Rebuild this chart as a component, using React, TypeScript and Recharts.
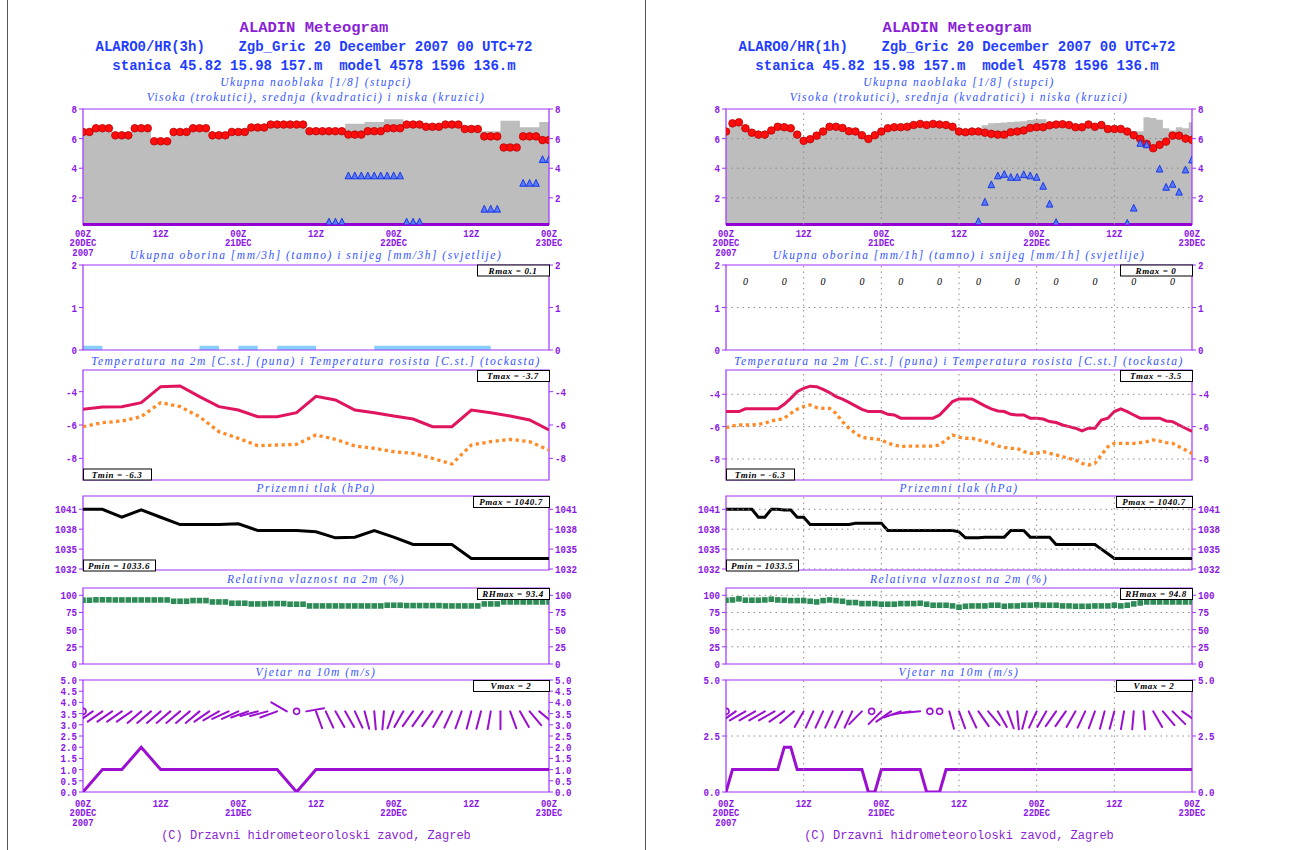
import React from "react";
import { Area, ComposedChart, Line, ReferenceArea, ReferenceLine, Scatter, XAxis, YAxis } from "recharts";

// ---- time axis: hours after 00Z 20 Dec 2007 ----
const HOURS = Array.from({ length: 73 }, (_, h) => h);
const STEPS_3H = HOURS.filter((h) => h % 3 === 0);
const BARB_HOURS = Array.from({ length: 49 }, (_, i) => i * 1.5);
const RAIN_6H_HOURS = [3, 9, 15, 21, 27, 33, 39, 45, 51, 57, 63, 69];
const X_TICKS = [0, 12, 24, 36, 48, 60, 72];
const X_HOUR_LABELS = ["00Z", "12Z", "00Z", "12Z", "00Z", "12Z", "00Z"];
const X_DAY_LABELS = ["20DEC", "", "21DEC", "", "22DEC", "", "23DEC"];
const X_YEAR_LABELS = ["2007", "", "", "", "", "", ""];

// ---- left panel: ALARO0/HR 3h output ----
const lowCloud3h = [6.45, 6.7, 6.22, 6.7, 5.82, 6.45, 6.7, 6.22, 6.45, 6.75, 6.95, 6.95, 6.5, 6.5, 6.27, 6.5, 6.7, 6.95, 6.8, 6.95, 6.65, 6.15, 5.4, 6.15, 5.9];
const totalCloud3h = [6.5, 6.75, 6.3, 6.75, 5.9, 6.5, 6.75, 6.3, 6.5, 6.8, 7.0, 7.0, 6.55, 6.55, 7.0, 7.12, 7.3, 7.0, 6.85, 7.0, 6.7, 6.5, 7.2, 6.76, 7.12];
const highCloudSteps3h = [39, 42, 45, 48, 51, 63, 69, 72];
const highCloud3h = [0.38, 3.5, 3.5, 3.5, 0.38, 1.25, 3.0, 4.6];
const snow3h = [0, 0.1, 0, 0, 0, 0, 0, 0.1, 0, 0.1, 0, 0.1, 0.1, 0, 0, 0, 0.1, 0.1, 0.1, 0.1, 0.1, 0.1, 0, 0, 0];
const temp3h = [-5.06, -4.92, -4.9, -4.66, -3.7, -3.66, -4.3, -4.9, -5.1, -5.5, -5.5, -5.26, -4.28, -4.5, -5.1, -5.26, -5.46, -5.64, -6.1, -6.1, -5.1, -5.26, -5.46, -5.7, -6.3];
const dew3h = [-6.1, -5.86, -5.76, -5.5, -4.66, -4.9, -5.5, -6.4, -6.8, -7.24, -7.2, -7.16, -6.6, -6.86, -7.26, -7.4, -7.6, -7.7, -8.0, -8.34, -7.2, -7.0, -6.86, -7.0, -7.5];
const pres3h = [1041.0, 1041.0, 1039.8, 1040.9, 1039.8, 1038.7, 1038.7, 1038.7, 1038.8, 1037.8, 1037.8, 1037.8, 1037.6, 1036.7, 1036.8, 1037.8, 1036.8, 1035.7, 1035.7, 1035.7, 1033.6, 1033.6, 1033.6, 1033.6, 1033.6];
const rh3h = [92.8, 93.4, 93.2, 93.2, 93.2, 91.3, 92.3, 90.3, 88.4, 87.4, 87.9, 87.0, 84.5, 84.5, 84.5, 84.5, 85.5, 85.0, 85.0, 84.5, 84.5, 87.4, 90.3, 90.3, 90.3];
const wind3h = [0, 1, 1, 2, 1, 1, 1, 1, 1, 1, 1, 0, 1, 1, 1, 1, 1, 1, 1, 1, 1, 1, 1, 1, 1];
const windDir3h = [
  null, 235, 235, 235, 235, 235, 230, 230, 230, 230,
  230, 230, 230, 235, 240, 245, 245, 250, 255, 255,
  250, 300, null, 80, 160, 155, 150, 150, 155, 165,
  175, 185, 200, 210, 215, 215, 215, 210, 205, 200,
  195, 195, 190, 180, 160, 150, 140, 130, 120,
];
const stats3h = ["Rmax = 0.1", "Tmax = -3.7", "Tmin = -6.3", "Pmax = 1040.7", "Pmin = 1033.6", "RHmax = 93.4", "Vmax = 2"];

// ---- right panel: ALARO0/HR 1h output ----
const lowCloud1h = [
  6.48, 7.03, 7.1, 6.7, 6.4, 6.27, 6.27, 6.55, 6.8, 6.77,
  6.7, 6.27, 5.85, 5.96, 6.2, 6.48, 6.8, 6.8, 6.72, 6.5,
  6.48, 6.23, 5.98, 6.23, 6.48, 6.7, 6.77, 6.77, 6.8, 6.92,
  6.99, 6.92, 6.99, 6.95, 6.92, 6.8, 6.48, 6.43, 6.48, 6.48,
  6.4, 6.32, 6.27, 6.27, 6.43, 6.48, 6.55, 6.72, 6.77, 6.77,
  6.9, 6.95, 6.97, 6.92, 6.77, 6.77, 6.95, 6.8, 6.92, 6.65,
  6.65, 6.65, 6.48, 6.23, 5.98, 5.65, 5.35, 5.58, 5.8, 6.2,
  6.2, 6.0, 5.92,
];
const totalCloud1h = [
  6.55, 7.08, 7.15, 6.75, 6.45, 6.32, 6.32, 6.6, 6.85, 6.82,
  6.75, 6.32, 5.9, 6.0, 6.25, 6.53, 6.85, 6.85, 6.77, 6.55,
  6.53, 6.28, 6.03, 6.28, 6.53, 6.75, 6.82, 6.82, 6.85, 6.97,
  7.04, 6.97, 7.04, 7.0, 6.97, 6.85, 6.53, 6.48, 6.53, 6.53,
  6.9, 7.03, 7.05, 7.08, 7.12, 7.15, 7.18, 7.25, 7.3, 7.3,
  6.95, 7.0, 7.02, 6.97, 6.82, 6.82, 7.0, 6.85, 6.97, 6.7,
  6.7, 6.7, 6.55, 6.5, 6.5, 7.45, 7.4, 7.28, 6.7, 6.55,
  6.77, 6.7, 7.1,
];
const highCloudHours1h = [39, 40, 41, 42, 43, 44, 45, 46, 47, 48, 49, 50, 51, 62, 63, 64, 65, 67, 68, 69, 70, 71, 72];
const highCloud1h = [0.42, 1.72, 2.9, 3.5, 3.6, 3.4, 3.4, 3.58, 3.5, 3.4, 2.8, 1.59, 0.35, 0.3, 1.32, 5.7, 5.6, 3.96, 2.73, 2.93, 2.4, 3.9, 4.57];
const rain6h = [0, 0, 0, 0, 0, 0, 0, 0, 0, 0, 0, 0];
const temp1h = [
  -5.07, -5.07, -5.07, -4.9, -4.9, -4.9, -4.9, -4.9, -4.9, -4.62,
  -4.25, -3.84, -3.63, -3.5, -3.53, -3.7, -3.9, -4.14, -4.3, -4.5,
  -4.72, -4.93, -5.07, -5.07, -5.07, -5.24, -5.28, -5.48, -5.48, -5.48,
  -5.48, -5.48, -5.48, -5.28, -4.87, -4.45, -4.29, -4.29, -4.29, -4.5,
  -4.72, -4.9, -5.03, -5.07, -5.24, -5.28, -5.28, -5.48, -5.48, -5.53,
  -5.69, -5.75, -5.9, -6.0, -6.1, -6.27, -6.1, -6.1, -5.59, -5.48,
  -5.07, -4.9, -5.07, -5.28, -5.48, -5.48, -5.48, -5.48, -5.65, -5.69,
  -5.9, -6.1, -6.3,
];
const dew1h = [
  -6.06, -5.96, -5.9, -5.9, -5.9, -5.86, -5.8, -5.63, -5.59, -5.48,
  -5.18, -4.93, -4.76, -4.66, -4.82, -4.87, -4.87, -5.18, -5.69, -6.1,
  -6.41, -6.66, -6.72, -6.76, -6.82, -7.03, -7.13, -7.24, -7.2, -7.2,
  -7.2, -7.2, -7.2, -7.13, -6.82, -6.52, -6.66, -6.72, -6.72, -6.82,
  -6.93, -7.03, -7.2, -7.28, -7.35, -7.35, -7.55, -7.65, -7.65, -7.55,
  -7.65, -7.75, -7.86, -7.96, -8.06, -8.27, -8.37, -8.27, -7.75, -7.24,
  -7.03, -7.03, -7.03, -7.03, -6.99, -6.93, -6.82, -6.89, -6.99, -7.03,
  -7.24, -7.44, -7.67,
];
const pres1h = [
  1041.0, 1041.0, 1041.0, 1041.0, 1041.0, 1039.8, 1039.8, 1041.0, 1041.0, 1040.9,
  1040.9, 1039.8, 1039.8, 1038.7, 1038.7, 1038.7, 1038.7, 1038.7, 1038.7, 1038.7,
  1038.9, 1038.9, 1038.9, 1038.9, 1038.9, 1037.8, 1037.8, 1037.8, 1037.8, 1037.8,
  1037.8, 1037.8, 1037.8, 1037.8, 1037.8, 1037.8, 1037.6, 1036.7, 1036.7, 1036.7,
  1036.8, 1036.8, 1036.8, 1036.8, 1037.8, 1037.8, 1037.8, 1036.8, 1036.8, 1036.8,
  1036.8, 1035.7, 1035.7, 1035.7, 1035.7, 1035.7, 1035.7, 1035.7, 1035.0, 1034.3,
  1033.6, 1033.6, 1033.6, 1033.6, 1033.6, 1033.6, 1033.6, 1033.6, 1033.6, 1033.6,
  1033.6, 1033.6, 1033.6,
];
const rh1h = [
  92.8, 93.2, 94.8, 92.8, 92.8, 92.8, 93.2, 94.2, 93.2, 92.8,
  92.3, 92.3, 92.3, 91.3, 90.3, 92.3, 93.2, 92.3, 91.3, 89.4,
  89.4, 87.9, 87.9, 87.9, 87.0, 87.0, 87.0, 87.9, 87.9, 87.9,
  88.4, 87.0, 85.5, 85.5, 85.5, 84.5, 82.6, 84.0, 84.5, 84.5,
  84.5, 85.5, 85.5, 84.0, 84.5, 84.5, 85.5, 85.5, 86.0, 85.5,
  85.5, 85.5, 84.5, 84.5, 84.0, 84.0, 84.0, 84.5, 84.5, 84.5,
  85.5, 84.5, 85.5, 87.4, 88.9, 90.3, 90.3, 90.3, 90.3, 90.3,
  90.3, 90.3, 90.3,
];
const wind1h = [
  0, 1, 1, 1, 1, 1, 1, 1, 1, 2,
  2, 1, 1, 1, 1, 1, 1, 1, 1, 1,
  1, 1, 0, 0, 1, 1, 1, 1, 1, 1,
  1, 0, 0, 0, 1, 1, 1, 1, 1, 1,
  1, 1, 1, 1, 1, 1, 1, 1, 1, 1,
  1, 1, 1, 1, 1, 1, 1, 1, 1, 1,
  1, 1, 1, 1, 1, 1, 1, 1, 1, 1,
  1, 1, 1,
];
const windDir1h = [
  null, 235, 240, 240, 240, 240, 235, 230, 210, 205,
  205, 205, 205, 205, 225, null, 225, 235, 250, 260,
  265, null, null, 165, 160, 155, 145, 140, 150, 160,
  175, 195, 205, 210, 215, 215, 210, 205, 200, 195,
  195, 190, 185, 175, 150, 140, 135, 125, 120,
];
const stats1h = ["Rmax = 0", "Tmax = -3.5", "Tmin = -6.3", "Pmax = 1040.7", "Pmin = 1033.5", "RHmax = 94.8", "Vmax = 2"];

// ---- axes ----
const CLOUD_DOMAIN = [0.2, 8];
const CLOUD_TICKS = [2, 4, 6, 8];
const PRECIP_DOMAIN = [0, 2];
const PRECIP_TICKS = [0, 1, 2];
const TEMP_TICKS = [-8, -6, -4];
const PRES_DOMAIN = [1031.85, 1043];
const PRES_TICKS = [1032, 1035, 1038, 1041];
const RH_DOMAIN = [0, 110.6];
const RH_TICKS = [0, 25, 50, 75, 100];
const WIND_DOMAIN = [0, 5];
const WIND_TICKS_3H = [0, 0.5, 1, 1.5, 2, 2.5, 3, 3.5, 4, 4.5, 5];
const WIND_TICKS_1H = [0, 2.5, 5];
const BARB_Y = 3.6;
const RAIN_LABEL_Y = 1.62;

// ---- styling ----
const MONO = "'Liberation Mono', 'DejaVu Sans Mono', monospace";
const SERIF = "'Liberation Serif', 'DejaVu Serif', serif";
const FRAME = "#a033ff";
const TICK_TXT = "#8b17e6";
const AXIS_DARK = "#9400d3";
const TITLE = "#8a1fd6";
const BLUE = "#1f3dff";
const BLUE_IT = "#3355ff";
const GRAY_FILL = "#bdbdbd";
const SNOW = "#87cefa";
const TEMP = "#e0145f";
const DEW = "#ff8a26";
const RH = "#2e8b57";
const WIND = "#9a0fd0";
const GRID = "#8c8c8c";
const PLOT_W = 466;
const YW = 40;
const MT = 8;
const MB = 8;
const BARB_LEN = 18;

const from3h = (vals: number[]) => HOURS.map((h) => ({ h, v: vals[Math.round(h / 3)] }));
const sparse3h = (steps: number[], vals: number[]) =>
  HOURS.flatMap((h) => {
    const i = steps.indexOf(Math.round(h / 3) * 3);
    return i < 0 ? [] : [{ h, v: vals[i] }];
  });
const at3h = (vals: number[]) => STEPS_3H.map((h, i) => ({ h, v: vals[i] }));
const hourly = (vals: number[]) => HOURS.map((h) => ({ h, v: vals[h] }));

const LEFT = {
  x: 83,
  header: "ALARO0/HR(3h)    Zgb_Gric 20 December 2007 00 UTC+72",
  precipTitle: "Ukupna oborina [mm/3h] (tamno) i snijeg [mm/3h] (svjetlije)",
  grid: false,
  cloud: from3h(totalCloud3h),
  low: from3h(lowCloud3h),
  high: sparse3h(highCloudSteps3h, highCloud3h),
  precip: at3h(snow3h),
  rainLabels: [] as any[],
  temp: STEPS_3H.map((h, i) => ({ h, t: temp3h[i], td: dew3h[i] })),
  tempDomain: [-9.3, -2.7],
  pres: at3h(pres3h),
  rh: from3h(rh3h),
  wind: at3h(wind3h),
  windTicks: WIND_TICKS_3H,
  barbs: BARB_HOURS.map((h, i) => ({ h, y: BARB_Y, dir: windDir3h[i] })),
  stats: stats3h,
};

const RIGHT = {
  x: 726,
  header: "ALARO0/HR(1h)    Zgb_Gric 20 December 2007 00 UTC+72",
  precipTitle: "Ukupna oborina [mm/1h] (tamno) i snijeg [mm/1h] (svjetlije)",
  grid: true,
  cloud: hourly(totalCloud1h),
  low: hourly(lowCloud1h),
  high: highCloudHours1h.map((h, i) => ({ h, v: highCloud1h[i] })),
  precip: [] as any[],
  rainLabels: RAIN_6H_HOURS.map((h, i) => ({ h, y: RAIN_LABEL_Y, v: rain6h[i] })),
  temp: HOURS.map((h) => ({ h, t: temp1h[h], td: dew1h[h] })),
  tempDomain: [-9.3, -2.5],
  pres: hourly(pres1h),
  rh: hourly(rh1h),
  wind: hourly(wind1h),
  windTicks: WIND_TICKS_1H,
  barbs: BARB_HOURS.map((h, i) => ({ h, y: BARB_Y, dir: windDir1h[i] })),
  stats: stats1h,
};

function YTick(props: any) {
  const { x, y, payload, textAnchor, fmt } = props;
  return (
    <g transform={`translate(${x},${y}) scale(0.8,1)`}>
      <text x={0} y={0} dy={4} textAnchor={textAnchor} fontFamily={MONO} fontWeight="bold" fontSize={11.5} fill={TICK_TXT}>
        {fmt(payload.value)}
      </text>
    </g>
  );
}

function XTick(props: any) {
  const { x, y, payload, off } = props;
  const i = X_TICKS.indexOf(payload.value);
  return (
    <g transform={`translate(${x},${y}) scale(0.85,1)`}>
      <text textAnchor="middle" fontFamily={MONO} fontWeight="bold" fontSize={10.5} fill={TICK_TXT}>
        <tspan x={0} y={off}>{X_HOUR_LABELS[i]}</tspan>
        {X_DAY_LABELS[i] ? <tspan x={0} y={off + 9.5}>{X_DAY_LABELS[i]}</tspan> : null}
        {X_YEAR_LABELS[i] ? <tspan x={0} y={off + 19.5}>{X_YEAR_LABELS[i]}</tspan> : null}
      </text>
    </g>
  );
}

const LowDot = (p: any) => <circle cx={p.cx} cy={p.cy} r={3.8} fill="#ff0d0d" stroke="#b80000" strokeWidth={0.8} />;
const HighDot = (p: any) => (
  <path d={`M${p.cx - 3.3},${p.cy + 3.2} L${p.cx},${p.cy - 3.6} L${p.cx + 3.3},${p.cy + 3.2} Z`} fill="#5a78ff" stroke="#1030e0" strokeWidth={0.9} />
);
const RhDot = (p: any) => <rect x={p.cx - 2.8} y={p.cy - 2.8} width={5.6} height={5.6} fill={RH} />;
const RainLabel = (p: any) => (
  <text x={p.cx} y={p.cy} dy={4} textAnchor="middle" fontFamily={SERIF} fontStyle="italic" fontSize={10} fill="#000">
    {p.payload.v}
  </text>
);
const Barb = (p: any) => {
  const d = p.payload.dir;
  if (d == null) return <circle cx={p.cx} cy={p.cy} r={3} fill="none" stroke={WIND} strokeWidth={1.6} />;
  const a = (d * Math.PI) / 180;
  return (
    <line x1={p.cx} y1={p.cy} x2={p.cx + BARB_LEN * Math.sin(a)} y2={p.cy - BARB_LEN * Math.cos(a)} stroke={WIND} strokeWidth={2} strokeLinecap="round" />
  );
};

function Plot({ x, top, h, domain, ticks, fmt = (v: number) => String(v), data, grid, xOff = 0, children }: any) {
  const xLabels = xOff > 0;
  const xh = xLabels ? 40 : 0;
  const mb = xLabels ? 0 : MB;
  const gy = ticks.filter((t: number) => t > domain[0] && t < domain[1]);
  const yProps = {
    type: "number" as const,
    domain,
    ticks,
    allowDataOverflow: true,
    interval: 0,
    width: YW,
    axisLine: false,
    stroke: FRAME,
    tickSize: 4,
    tickMargin: 2,
    tick: <YTick fmt={fmt} />,
  };
  return (
    <div style={{ position: "absolute", left: x - YW, top: top - MT }}>
      <ComposedChart width={PLOT_W + 2 * YW} height={h + MT + xh + mb} data={data} margin={{ top: MT, right: 0, bottom: mb, left: 0 }}>
        <XAxis
          type="number"
          dataKey="h"
          domain={[0, 72]}
          ticks={X_TICKS}
          allowDataOverflow
          interval={0}
          hide={!xLabels}
          height={xh}
          axisLine={false}
          tickLine={false}
          tickSize={0}
          tickMargin={0}
          tick={xLabels ? <XTick off={xOff} /> : false}
        />
        <YAxis yAxisId="l" {...yProps} />
        <YAxis yAxisId="r" orientation="right" {...yProps} />
        {children}
        {grid &&
          X_TICKS.slice(1, -1).map((t) => (
            <ReferenceLine key={"gx" + t} yAxisId="l" x={t} stroke={GRID} strokeDasharray="1.5 4" />
          ))}
        {grid && gy.map((t: number) => <ReferenceLine key={"gy" + t} yAxisId="l" y={t} stroke={GRID} strokeDasharray="1.5 4" />)}
        <ReferenceArea yAxisId="l" x1={0} x2={72} y1={domain[0]} y2={domain[1]} fill="none" stroke={FRAME} strokeWidth={1.2} />
        <Line yAxisId="r" dataKey="h" stroke="none" dot={false} activeDot={false} isAnimationActive={false} />
      </ComposedChart>
    </div>
  );
}

function Panel({ p }: any) {
  return (
    <>
      <Plot x={p.x} top={109} h={115.5} domain={CLOUD_DOMAIN} ticks={CLOUD_TICKS} data={p.cloud} grid={p.grid} xOff={12.5}>
        <Area yAxisId="l" type="step" dataKey="v" fill={GRAY_FILL} fillOpacity={1} stroke="none" isAnimationActive={false} />
        <Scatter yAxisId="l" data={p.low} dataKey="v" shape={LowDot} isAnimationActive={false} />
        <Scatter yAxisId="l" data={p.high} dataKey="v" shape={HighDot} isAnimationActive={false} />
        <ReferenceLine yAxisId="l" y={CLOUD_DOMAIN[0]} stroke={AXIS_DARK} strokeWidth={3} />
      </Plot>
      <Plot x={p.x} top={265} h={85} domain={PRECIP_DOMAIN} ticks={PRECIP_TICKS} data={p.precip.length ? p.precip : p.rainLabels} grid={p.grid}>
        {p.precip.length ? (
          <Area yAxisId="l" type="stepBefore" dataKey="v" fill={SNOW} fillOpacity={1} stroke="none" isAnimationActive={false} />
        ) : null}
        {p.rainLabels.length ? (
          <Scatter yAxisId="l" data={p.rainLabels} dataKey="y" shape={RainLabel} isAnimationActive={false} />
        ) : null}
      </Plot>
      <Plot x={p.x} top={370} h={110} domain={p.tempDomain} ticks={TEMP_TICKS} data={p.temp} grid={p.grid}>
        <Line yAxisId="l" type="linear" dataKey="td" stroke={DEW} strokeWidth={3.3} strokeDasharray="3.3 3.4" dot={false} isAnimationActive={false} />
        <Line yAxisId="l" type="linear" dataKey="t" stroke={TEMP} strokeWidth={3} dot={false} isAnimationActive={false} />
      </Plot>
      <Plot x={p.x} top={496} h={74} domain={PRES_DOMAIN} ticks={PRES_TICKS} data={p.pres} grid={p.grid}>
        <Line yAxisId="l" type="linear" dataKey="v" stroke="#000" strokeWidth={3} dot={false} isAnimationActive={false} />
      </Plot>
      <Plot x={p.x} top={588} h={76} domain={RH_DOMAIN} ticks={RH_TICKS} data={p.rh} grid={p.grid}>
        <Scatter yAxisId="l" data={p.rh} dataKey="v" shape={RhDot} isAnimationActive={false} />
      </Plot>
      <Plot x={p.x} top={680} h={112} domain={WIND_DOMAIN} ticks={p.windTicks} fmt={(v: number) => v.toFixed(1)} data={p.wind} grid={p.grid} xOff={15}>
        <Line yAxisId="l" type="linear" dataKey="v" stroke={WIND} strokeWidth={3} dot={false} isAnimationActive={false} />
        <Scatter yAxisId="l" data={p.barbs} dataKey="y" shape={Barb} isAnimationActive={false} />
      </Plot>
    </>
  );
}

const BOXES = [
  { top: 265, right: true, w: 72 },
  { top: 370.5, right: true, w: 72 },
  { top: 469, right: false, w: 68 },
  { top: 496.5, right: true, w: 76 },
  { top: 560, right: false, w: 72 },
  { top: 588.5, right: true, w: 72 },
  { top: 680.5, right: true, w: 76 },
];

function PanelText({ p }: any) {
  const cx = p.x + PLOT_W / 2;
  const it = { x: cx, textAnchor: "middle" as const, fontFamily: SERIF, fontStyle: "italic", fontSize: 11.5, letterSpacing: 1.5, fill: BLUE_IT };
  return (
    <g>
      <text x={cx - 2} y={32} textAnchor="middle" fontFamily={MONO} fontWeight="bold" fontSize={15.5} fill={TITLE}>
        ALADIN Meteogram
      </text>
      <text x={cx - 2} y={51} textAnchor="middle" fontFamily={MONO} fontWeight="bold" fontSize={14} fill={BLUE} style={{ whiteSpace: "pre" }}>
        {p.header}
      </text>
      <text x={cx - 2} y={70} textAnchor="middle" fontFamily={MONO} fontWeight="bold" fontSize={14} fill={BLUE} style={{ whiteSpace: "pre" }}>
        {"stanica 45.82 15.98 157.m  model 4578 1596 136.m"}
      </text>
      <text {...it} y={86}>Ukupna naoblaka [1/8] (stupci)</text>
      <text {...it} y={101}>Visoka (trokutici), srednja (kvadratici) i niska (kruzici)</text>
      <text {...it} y={258.5}>{p.precipTitle}</text>
      <text {...it} y={365}>Temperatura na 2m [C.st.] (puna) i Temperatura rosista [C.st.] (tockasta)</text>
      <text {...it} y={492}>Prizemni tlak (hPa)</text>
      <text {...it} y={583}>Relativna vlaznost na 2m (%)</text>
      <text {...it} y={676}>Vjetar na 10m (m/s)</text>
      <text x={cx} y={839} textAnchor="middle" fontFamily={MONO} fontSize={12} fill={TITLE}>
        (C) Drzavni hidrometeoroloski zavod, Zagreb
      </text>
      {BOXES.map((b, i) => {
        const bx = b.right ? p.x + PLOT_W - b.w : p.x;
        return (
          <g key={i}>
            <rect x={bx + 0.5} y={b.top} width={b.w} height={11} fill="#fff" stroke="#000" strokeWidth={1} />
            <text x={bx + b.w / 2} y={b.top + 8.5} textAnchor="middle" fontFamily={SERIF} fontStyle="italic" fontWeight="bold" fontSize={9} letterSpacing={0.6} fill="#000">
              {p.stats[i]}
            </text>
          </g>
        );
      })}
    </g>
  );
}

export default function App() {
  return (
    <div style={{ position: "absolute", left: 0, top: 0, width: 1289, height: 850, background: "#fff", overflow: "hidden" }}>
      <Panel p={LEFT} />
      <Panel p={RIGHT} />
      <svg width={1289} height={850} style={{ position: "absolute", left: 0, top: 0, pointerEvents: "none" }}>
        <line x1={7.5} y1={0} x2={7.5} y2={850} stroke="#555" />
        <line x1={645.5} y1={0} x2={645.5} y2={850} stroke="#555" />
        <PanelText p={LEFT} />
        <PanelText p={RIGHT} />
      </svg>
    </div>
  );
}
